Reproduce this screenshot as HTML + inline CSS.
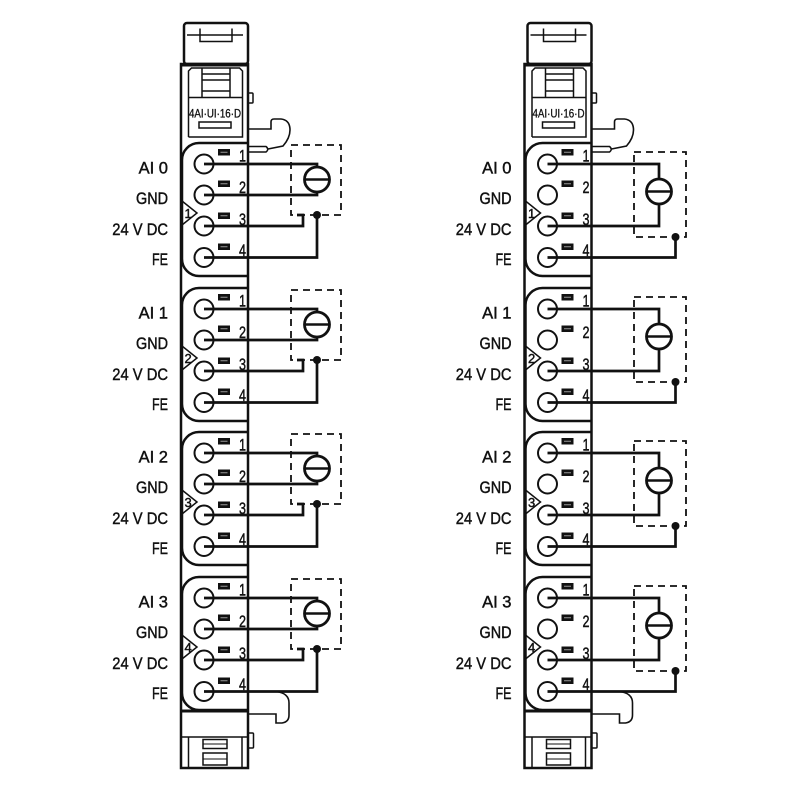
<!DOCTYPE html>
<html><head><meta charset="utf-8"><style>
html,body{margin:0;padding:0;background:#fff;}
svg{display:block;}
text{font-family:"Liberation Sans Narrow","Liberation Sans",sans-serif;fill:#111;stroke:#111;stroke-width:0.45;}
</style></head><body>
<svg width="800" height="800" viewBox="0 0 800 800" xmlns="http://www.w3.org/2000/svg">
<defs>
<g id="mod" fill="none" stroke="#111" stroke-width="2.5">
 <rect x="184" y="23" width="64" height="41" rx="3" fill="#fff"/>
 <path d="M187,35 H243 M200,28.5 V41.5 H232 V28.5" stroke-width="1.5"/>
 <rect x="181" y="64" width="67" height="704" fill="#fff"/>
 <line x1="181" y1="65" x2="248" y2="65" stroke-width="3"/>
 <path d="M188.5,137 V71 L191.5,68 H239.5 L242.5,71 V137 H188.5" stroke-width="1.5"/>
 <path d="M202,68 V97 M230,68 V97 M202,74 H230 M202,80 H230 M202,91 H230 M188.5,97.5 H242.5" stroke-width="1.5"/>
 <rect x="248" y="93" width="5" height="10" rx="1" stroke-width="1.5"/>
 <rect x="199" y="122" width="32" height="6" stroke-width="1.5"/>
 <path d="M248,129 H271 V122 Q271,119 274,119 H281 Q290,120 290,130 Q290,138 283,146 L268,149" stroke-width="1.6"/>
 <path d="M249,146.5 H266 Q269.5,149.25 266,152 H249" stroke-width="1.5"/>
 <line x1="181" y1="711" x2="248" y2="711" stroke-width="3"/>
 <line x1="181" y1="737" x2="248" y2="737" stroke-width="1.5"/>
 <path d="M188.5,737 V768 M242,737 V768" stroke-width="1.5"/>
 <rect x="203" y="739.5" width="24" height="9" stroke-width="1.5"/>
 <line x1="203" y1="744" x2="227" y2="744" stroke-width="1"/>
 <rect x="203" y="753" width="24" height="12" stroke-width="1.5"/>
 <line x1="203" y1="759" x2="227" y2="759" stroke-width="1"/>
 <rect x="248" y="733" width="5.5" height="15" rx="1" stroke-width="1.5"/>
 <path d="M248,714 H276 V723 H282 Q289,722 289,715 V703 Q289,693 276,691.5" stroke-width="1.6"/>
</g>
<g id="blk" fill="none" stroke="#111">
 <path d="M248,0 L199,0 A17,17 0 0 0 182,17 L182,116 A17,17 0 0 0 199,133 L248,133" stroke-width="2.5"/>
 <polyline points="182,58 197,70 182,82" stroke-width="1.5"/>
 <g stroke-width="2" fill="#fff">
  <circle cx="204" cy="21" r="9.5"/>
  <circle cx="204" cy="52" r="9.5"/>
  <circle cx="204" cy="83" r="9.5"/>
  <circle cx="204" cy="114.5" r="9.5"/>
 </g>
 <g stroke="none" fill="#111">
  <rect x="218" y="6" width="12" height="6.5"/>
  <rect x="218" y="37.5" width="12" height="6.5"/>
  <rect x="218" y="69.5" width="12" height="6.5"/>
  <rect x="218" y="100.5" width="12" height="6.5"/>
 </g>
 <g stroke="#999" stroke-width="1">
  <line x1="220.5" y1="9.25" x2="227.5" y2="9.25"/>
  <line x1="220.5" y1="40.75" x2="227.5" y2="40.75"/>
  <line x1="220.5" y1="72.75" x2="227.5" y2="72.75"/>
  <line x1="220.5" y1="103.75" x2="227.5" y2="103.75"/>
 </g>
</g>
<g id="sensL" fill="none" stroke="#111">
 <rect x="291" y="2" width="50" height="70" stroke-width="1.8" stroke-dasharray="7 5"/>
 <g stroke-width="2.7">
  <polyline points="204,21 317,21 317,24"/>
  <polyline points="204,52 317,52 317,49"/>
  <polyline points="204,83 303,83 303,72 297,72"/>
  <polyline points="317,72 317,114.5 204,114.5"/>
 </g>
 <circle cx="317" cy="36.5" r="12.5" stroke-width="2.8" fill="#fff"/>
 <line x1="304.5" y1="36.5" x2="329.5" y2="36.5" stroke-width="2.5"/>
 <circle cx="317" cy="72" r="4" fill="#111" stroke="none"/>
</g>
<g id="sensR" fill="none" stroke="#111">
 <rect x="634" y="9" width="52" height="85" stroke-width="1.8" stroke-dasharray="7 5"/>
 <g stroke-width="2.7">
  <polyline points="547.5,21 659,21 659,36"/>
  <polyline points="547.5,83 659,83 659,61"/>
  <polyline points="675.5,94 675.5,114.5 547.5,114.5"/>
 </g>
 <circle cx="659" cy="48.5" r="12.5" stroke-width="2.8" fill="#fff"/>
 <line x1="646.5" y1="48.5" x2="671.5" y2="48.5" stroke-width="2.5"/>
 <circle cx="675.5" cy="94" r="4" fill="#111" stroke="none"/>
</g>
</defs>

<!-- LEFT MODULE -->
<use href="#mod"/>
<text x="189" y="117.5" font-size="11.5" textLength="52" lengthAdjust="spacingAndGlyphs" style="stroke-width:0.3">4AI·UI·16·D</text>

<g transform="translate(0,143)">
 <use href="#blk"/><use href="#sensL"/>
 <g font-size="16.5"><text x="239" y="18.5" textLength="7" lengthAdjust="spacingAndGlyphs">1</text><text x="239" y="50" textLength="7" lengthAdjust="spacingAndGlyphs">2</text><text x="239" y="82" textLength="7" lengthAdjust="spacingAndGlyphs">3</text><text x="239" y="113" textLength="7" lengthAdjust="spacingAndGlyphs">4</text></g>
 <text x="184.5" y="75" font-size="13">1</text>
 <g font-size="17">
  <text x="138.6" y="30.5" textLength="29.4" lengthAdjust="spacingAndGlyphs">AI 0</text>
  <text x="136" y="61" textLength="32" lengthAdjust="spacingAndGlyphs">GND</text>
  <text x="112.3" y="92" textLength="55.7" lengthAdjust="spacingAndGlyphs">24 V DC</text>
  <text x="152" y="122" textLength="16" lengthAdjust="spacingAndGlyphs">FE</text>
 </g>
</g>
<g transform="translate(0,288)">
 <use href="#blk"/><use href="#sensL"/>
 <g font-size="16.5"><text x="239" y="18.5" textLength="7" lengthAdjust="spacingAndGlyphs">1</text><text x="239" y="50" textLength="7" lengthAdjust="spacingAndGlyphs">2</text><text x="239" y="82" textLength="7" lengthAdjust="spacingAndGlyphs">3</text><text x="239" y="113" textLength="7" lengthAdjust="spacingAndGlyphs">4</text></g>
 <text x="184.5" y="75" font-size="13">2</text>
 <g font-size="17">
  <text x="138.6" y="30.5" textLength="29.4" lengthAdjust="spacingAndGlyphs">AI 1</text>
  <text x="136" y="61" textLength="32" lengthAdjust="spacingAndGlyphs">GND</text>
  <text x="112.3" y="92" textLength="55.7" lengthAdjust="spacingAndGlyphs">24 V DC</text>
  <text x="152" y="122" textLength="16" lengthAdjust="spacingAndGlyphs">FE</text>
 </g>
</g>
<g transform="translate(0,432)">
 <use href="#blk"/><use href="#sensL"/>
 <g font-size="16.5"><text x="239" y="18.5" textLength="7" lengthAdjust="spacingAndGlyphs">1</text><text x="239" y="50" textLength="7" lengthAdjust="spacingAndGlyphs">2</text><text x="239" y="82" textLength="7" lengthAdjust="spacingAndGlyphs">3</text><text x="239" y="113" textLength="7" lengthAdjust="spacingAndGlyphs">4</text></g>
 <text x="184.5" y="75" font-size="13">3</text>
 <g font-size="17">
  <text x="138.6" y="30.5" textLength="29.4" lengthAdjust="spacingAndGlyphs">AI 2</text>
  <text x="136" y="61" textLength="32" lengthAdjust="spacingAndGlyphs">GND</text>
  <text x="112.3" y="92" textLength="55.7" lengthAdjust="spacingAndGlyphs">24 V DC</text>
  <text x="152" y="122" textLength="16" lengthAdjust="spacingAndGlyphs">FE</text>
 </g>
</g>
<g transform="translate(0,577)">
 <use href="#blk"/><use href="#sensL"/>
 <g font-size="16.5"><text x="239" y="18.5" textLength="7" lengthAdjust="spacingAndGlyphs">1</text><text x="239" y="50" textLength="7" lengthAdjust="spacingAndGlyphs">2</text><text x="239" y="82" textLength="7" lengthAdjust="spacingAndGlyphs">3</text><text x="239" y="113" textLength="7" lengthAdjust="spacingAndGlyphs">4</text></g>
 <text x="184.5" y="75" font-size="13">4</text>
 <g font-size="17">
  <text x="138.6" y="30.5" textLength="29.4" lengthAdjust="spacingAndGlyphs">AI 3</text>
  <text x="136" y="61" textLength="32" lengthAdjust="spacingAndGlyphs">GND</text>
  <text x="112.3" y="92" textLength="55.7" lengthAdjust="spacingAndGlyphs">24 V DC</text>
  <text x="152" y="122" textLength="16" lengthAdjust="spacingAndGlyphs">FE</text>
 </g>
</g>

<!-- RIGHT MODULE -->
<use href="#mod" transform="translate(343.5,0)"/>
<text x="532.5" y="117.5" font-size="11.5" textLength="52" lengthAdjust="spacingAndGlyphs" style="stroke-width:0.3">4AI·UI·16·D</text>

<g transform="translate(0,143)">
 <use href="#blk" transform="translate(343.5,0)"/><use href="#sensR"/>
 <g font-size="16.5"><text x="582.5" y="18.5" textLength="7" lengthAdjust="spacingAndGlyphs">1</text><text x="582.5" y="50" textLength="7" lengthAdjust="spacingAndGlyphs">2</text><text x="582.5" y="82" textLength="7" lengthAdjust="spacingAndGlyphs">3</text><text x="582.5" y="113" textLength="7" lengthAdjust="spacingAndGlyphs">4</text></g>
 <text x="528" y="75" font-size="13">1</text>
 <g font-size="17">
  <text x="482.1" y="30.5" textLength="29.4" lengthAdjust="spacingAndGlyphs">AI 0</text>
  <text x="479.5" y="61" textLength="32" lengthAdjust="spacingAndGlyphs">GND</text>
  <text x="455.8" y="92" textLength="55.7" lengthAdjust="spacingAndGlyphs">24 V DC</text>
  <text x="495.5" y="122" textLength="16" lengthAdjust="spacingAndGlyphs">FE</text>
 </g>
</g>
<g transform="translate(0,288)">
 <use href="#blk" transform="translate(343.5,0)"/><use href="#sensR"/>
 <g font-size="16.5"><text x="582.5" y="18.5" textLength="7" lengthAdjust="spacingAndGlyphs">1</text><text x="582.5" y="50" textLength="7" lengthAdjust="spacingAndGlyphs">2</text><text x="582.5" y="82" textLength="7" lengthAdjust="spacingAndGlyphs">3</text><text x="582.5" y="113" textLength="7" lengthAdjust="spacingAndGlyphs">4</text></g>
 <text x="528" y="75" font-size="13">2</text>
 <g font-size="17">
  <text x="482.1" y="30.5" textLength="29.4" lengthAdjust="spacingAndGlyphs">AI 1</text>
  <text x="479.5" y="61" textLength="32" lengthAdjust="spacingAndGlyphs">GND</text>
  <text x="455.8" y="92" textLength="55.7" lengthAdjust="spacingAndGlyphs">24 V DC</text>
  <text x="495.5" y="122" textLength="16" lengthAdjust="spacingAndGlyphs">FE</text>
 </g>
</g>
<g transform="translate(0,432)">
 <use href="#blk" transform="translate(343.5,0)"/><use href="#sensR"/>
 <g font-size="16.5"><text x="582.5" y="18.5" textLength="7" lengthAdjust="spacingAndGlyphs">1</text><text x="582.5" y="50" textLength="7" lengthAdjust="spacingAndGlyphs">2</text><text x="582.5" y="82" textLength="7" lengthAdjust="spacingAndGlyphs">3</text><text x="582.5" y="113" textLength="7" lengthAdjust="spacingAndGlyphs">4</text></g>
 <text x="528" y="75" font-size="13">3</text>
 <g font-size="17">
  <text x="482.1" y="30.5" textLength="29.4" lengthAdjust="spacingAndGlyphs">AI 2</text>
  <text x="479.5" y="61" textLength="32" lengthAdjust="spacingAndGlyphs">GND</text>
  <text x="455.8" y="92" textLength="55.7" lengthAdjust="spacingAndGlyphs">24 V DC</text>
  <text x="495.5" y="122" textLength="16" lengthAdjust="spacingAndGlyphs">FE</text>
 </g>
</g>
<g transform="translate(0,577)">
 <use href="#blk" transform="translate(343.5,0)"/><use href="#sensR"/>
 <g font-size="16.5"><text x="582.5" y="18.5" textLength="7" lengthAdjust="spacingAndGlyphs">1</text><text x="582.5" y="50" textLength="7" lengthAdjust="spacingAndGlyphs">2</text><text x="582.5" y="82" textLength="7" lengthAdjust="spacingAndGlyphs">3</text><text x="582.5" y="113" textLength="7" lengthAdjust="spacingAndGlyphs">4</text></g>
 <text x="528" y="75" font-size="13">4</text>
 <g font-size="17">
  <text x="482.1" y="30.5" textLength="29.4" lengthAdjust="spacingAndGlyphs">AI 3</text>
  <text x="479.5" y="61" textLength="32" lengthAdjust="spacingAndGlyphs">GND</text>
  <text x="455.8" y="92" textLength="55.7" lengthAdjust="spacingAndGlyphs">24 V DC</text>
  <text x="495.5" y="122" textLength="16" lengthAdjust="spacingAndGlyphs">FE</text>
 </g>
</g>
</svg>
</body></html>
